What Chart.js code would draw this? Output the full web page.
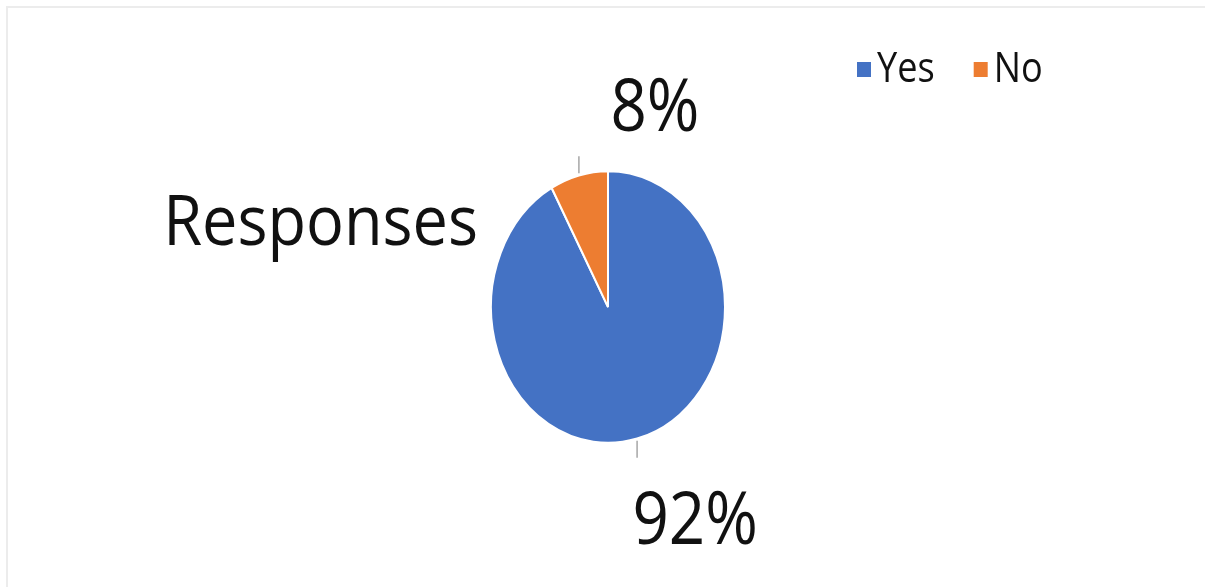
<!DOCTYPE html>
<html>
<head>
<meta charset="utf-8">
<script src="https://cdn.jsdelivr.net/npm/chart.js@4/dist/chart.umd.min.js"></script>
<style>
  html, body { margin: 0; padding: 0; background: #fff; }
  #wrap { position: relative; width: 1205px; height: 587px; }
  #frame { position: absolute; left: 6px; top: 6px; right: 0; bottom: 0;
           border-left: 2px solid #ececec; border-top: 2px solid #ececec; }
</style>
</head>
<body>
<div id="wrap">
  <div id="frame"></div>
  <canvas id="pie-chart" width="1205" height="587"></canvas>
</div>
<script>
var Labels = ["Yes", "No"];
var Values = [92, 8];
var Colors = ["#4472C4", "#ED7D31"];
var SeriesName = "Responses";

var FONT = "'Open Sans', 'Noto Sans', sans-serif";
var STRETCH_Y = 136 / 117;    // pie is drawn taller than wide

function squeezedText(ctx, text, x, y, size, align, squeeze) {
    ctx.save();
    ctx.font = size + "px " + FONT;
    ctx.fillStyle = "#111";
    ctx.textBaseline = "alphabetic";
    var w = ctx.measureText(text).width * squeeze;
    var left = align === "right" ? x - w : (align === "center" ? x - w / 2 : x);
    ctx.translate(left, y);
    ctx.scale(squeeze, 1);
    ctx.textAlign = "left";
    ctx.fillText(text, 0, 0);
    ctx.restore();
    return w;
}

// stretch the arcs vertically around the pie centre
var ovalPie = {
    id: 'ovalPie',
    beforeDatasetsDraw: function (chart) {
        var arc = chart.getDatasetMeta(0).data[0];
        var ctx = chart.ctx;
        ctx.save();
        ctx.translate(arc.x, arc.y);
        ctx.scale(1, STRETCH_Y);
        ctx.translate(-arc.x, -arc.y);
    },
    afterDatasetsDraw: function (chart) {
        chart.ctx.restore();
    }
};

// leader lines, percentage labels, series name and legend
var pieLabels = {
    id: 'pieLabels',
    afterDraw: function (chart) {
        var ctx = chart.ctx;
        var meta = chart.getDatasetMeta(0);
        var ds = chart.data.datasets[0];
        var total = ds.data.reduce(function (a, b) { return a + b; }, 0);
        // label offset from the end of each leader line: [dx, dy to baseline]
        var labelShift = [[58, 86], [76, -25]];

        meta.data.forEach(function (arc, i) {
            var p = arc.getProps(['x', 'y', 'startAngle', 'endAngle', 'outerRadius'], true);
            var mid = (p.startAngle + p.endAngle) / 2;
            var ex = p.x + p.outerRadius * Math.cos(mid);
            var ey = p.y + p.outerRadius * STRETCH_Y * Math.sin(mid);
            var dir = Math.sin(mid) >= 0 ? 1 : -1;
            var ey2 = ey + dir * 19;
            ctx.save();
            ctx.strokeStyle = "#a6a6a6";
            ctx.lineWidth = 1.5;
            ctx.beginPath();
            ctx.moveTo(ex, ey + dir * 2);
            ctx.lineTo(ex, ey2);
            ctx.stroke();
            ctx.restore();
            var pct = Math.round(ds.data[i] / total * 100) + "%";
            squeezedText(ctx, pct, ex + labelShift[i][0], ey2 + labelShift[i][1], 74, "center", 0.86);
        });

        squeezedText(ctx, SeriesName, 478, 245, 70, "right", 0.9);

        // legend
        var lx = 857;
        chart.data.labels.forEach(function (lab, i) {
            ctx.fillStyle = ds.backgroundColor[i];
            ctx.fillRect(lx, 62, 14, 15);
            var w = squeezedText(ctx, lab, lx + 20, 82, 42, "left", 0.86);
            lx += 20 + w + 39;
        });
    }
};

new Chart(document.getElementById("pie-chart"), {
    type: 'pie',
    data: {
        labels: Labels,
        datasets: [{
            label: SeriesName,
            data: Values,
            backgroundColor: Colors,
            borderColor: "#ffffff",
            borderWidth: 2
        }]
    },
    options: {
        responsive: false,
        animation: false,
        layout: {
            padding: { left: 490, right: 479, top: 189, bottom: 162 }
        },
        plugins: {
            legend: { display: false },
            tooltip: { enabled: false }
        }
    },
    plugins: [ovalPie, pieLabels]
});
</script>
</body>
</html>
